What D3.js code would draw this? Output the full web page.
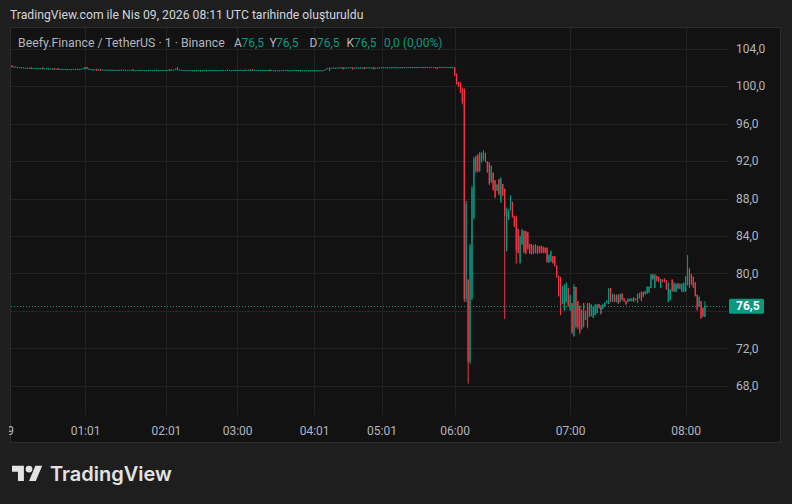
<!DOCTYPE html>
<html><head><meta charset="utf-8">
<script src="https://cdn.jsdelivr.net/npm/d3@7"></script>
<style>html,body{margin:0;padding:0;background:#1e1e1e;} svg{display:block}</style>
</head><body>
<svg id="c" width="792" height="504"></svg>
<script>
// ---------- data ----------
const titleText = "TradingView.com ile Nis 09, 2026 08:11 UTC tarihinde oluşturuldu";
const symbolText = "Beefy.Finance / TetherUS · 1 · Binance";
const legendKeys = ["A", "Y", "D", "K"];
const legendVals = ["76,5", "76,5", "76,5", "76,5"];
const changeText = "0,0 (0,00%)";
const lastPrice = 76.5;
const priceTicks = [68, 72, 76, 80, 84, 88, 92, 96, 100, 104];
const timeTickLabels = ["9", "01:01", "02:01", "03:00", "04:01", "05:01", "06:00", "07:00", "08:00"];
const timeTickBars = [-1, 38, 80, 117, 157, 192, 230, 290, 350];

// quiet period (bars 0..229): single-trade bars, open = high = low = close
const earlyPrice = [
 102.08,102.02,102.05,101.96,101.98,101.92,101.95,101.90,101.92,101.88,
 101.90,101.86,101.88,101.85,101.87,101.84,101.86,101.83,101.85,101.82,
 101.85,101.80,101.82,101.78,101.80,101.77,101.79,101.76,101.78,101.75,
 101.77,101.74,101.78,101.76,101.80,101.75,101.78,101.86,101.95,101.88,
 101.80,101.76,101.72,101.74,101.70,101.72,101.69,101.71,101.68,101.70,
 101.68,101.70,101.67,101.69,101.66,101.68,101.67,101.70,101.66,101.68,
 101.65,101.67,101.66,101.68,101.64,101.66,101.65,101.67,101.66,101.64,
 101.66,101.65,101.67,101.64,101.66,101.68,101.65,101.66,101.64,101.66,
 101.65,101.67,101.66,101.70,101.68,101.80,101.92,101.74,101.68,101.66,
 101.64,101.66,101.63,101.65,101.62,101.64,101.63,101.65,101.62,101.64,
 101.66,101.63,101.65,101.64,101.67,101.65,101.66,101.64,101.66,101.65,
 101.67,101.65,101.68,101.66,101.64,101.66,101.65,101.67,101.66,101.68,
 101.66,101.69,101.67,101.70,101.68,101.66,101.68,101.67,101.65,101.67,
 101.66,101.64,101.66,101.65,101.63,101.65,101.64,101.62,101.64,101.63,
 101.65,101.64,101.66,101.65,101.63,101.65,101.64,101.66,101.65,101.64,
 101.62,101.64,101.63,101.65,101.64,101.62,101.63,101.61,101.63,101.62,
 101.64,101.63,101.66,101.78,101.88,101.90,101.89,101.91,101.90,101.92,
 101.93,101.95,101.85,101.91,101.93,101.95,101.94,101.84,101.90,101.93,
 101.91,101.93,101.95,101.86,101.92,101.94,101.92,101.93,101.85,101.91,
 101.93,101.92,101.96,101.94,101.95,101.93,101.96,101.94,101.97,101.95,
 101.96,101.94,101.97,101.95,101.98,101.96,101.97,101.99,101.97,101.98,
 101.96,101.99,101.97,101.98,101.96,102.00,101.98,101.97,101.99,101.98,
 101.97,101.88,101.99,101.97,102.00,101.98,101.99,101.97,101.96,101.98
];
// quiet-period bars that traded a range: [bar, open, high, low, close]
const earlyRanged = [
 [0, 102.14, 102.14, 102.04, 102.06], [10, 101.96, 101.96, 101.86, 101.88],
 [16, 101.92, 101.92, 101.84, 101.85], [22, 101.88, 101.88, 101.80, 101.81],
 [24, 101.86, 101.86, 101.78, 101.79], [38, 101.84, 102.00, 101.84, 101.97],
 [39, 101.96, 101.96, 101.86, 101.88], [44, 101.78, 101.78, 101.69, 101.70],
 [46, 101.76, 101.76, 101.68, 101.69], [63, 101.75, 101.75, 101.66, 101.67],
 [82, 101.73, 101.73, 101.65, 101.66], [86, 101.72, 101.96, 101.72, 101.93],
 [125, 101.74, 101.74, 101.65, 101.66], [134, 101.72, 101.72, 101.63, 101.64],
 [165, 101.66, 101.92, 101.66, 101.90], [172, 101.95, 101.95, 101.83, 101.85],
 [177, 101.94, 101.94, 101.82, 101.84], [183, 101.95, 101.95, 101.84, 101.86],
 [188, 101.94, 101.94, 101.83, 101.85], [221, 101.98, 101.98, 101.86, 101.88]
];

// crash and recovery from 06:00 (bars 230..361): [open, high, low, close]
const lateOHLC = [
 [101.96,101.96,101.10,101.15],[101.20,101.30,100.20,100.30],[100.35,100.40,99.95,100.00],
 [100.30,100.40,99.30,99.40],[99.60,99.80,98.10,98.30],[99.60,99.70,77.00,77.30],
 [77.30,87.70,77.00,87.40],[79.30,79.30,68.30,70.60],[70.60,83.10,70.40,82.90],
 [77.40,89.30,77.20,89.00],[86.00,92.40,85.80,92.20],[92.40,92.50,90.80,91.00],
 [92.60,92.70,90.80,91.00],[91.00,92.90,90.90,92.80],[92.00,92.90,91.90,92.80],
 [92.20,93.10,92.10,93.00],[92.80,92.80,91.90,92.00],[91.90,91.90,90.80,90.90],
 [91.80,91.80,89.50,89.60],[89.80,91.50,89.70,91.40],[90.70,90.70,88.90,89.00],
 [89.90,89.90,88.10,88.20],[88.90,89.50,88.85,89.40],[90.00,90.00,88.40,88.50],
 [87.70,90.20,87.60,90.10],[89.50,89.50,88.30,88.40],[89.00,89.00,75.20,86.20],
 [82.50,87.00,82.40,86.80],[85.80,86.80,85.80,86.70],[86.80,88.30,86.80,88.20],
 [87.60,87.60,86.00,86.10],[86.10,86.10,85.00,85.10],[86.00,86.10,81.10,82.50],
 [84.70,84.70,82.20,82.30],[81.20,84.00,81.10,83.90],[83.20,84.70,83.10,84.60],
 [84.50,84.50,82.20,82.30],[84.40,84.50,82.10,82.20],[84.30,84.40,82.60,82.70],
 [83.10,83.10,82.10,82.20],[83.00,83.10,82.10,82.20],[82.20,83.00,82.10,82.90],
 [83.00,83.10,82.20,82.30],[82.90,82.90,82.10,82.20],[82.80,82.90,82.20,82.30],
 [82.90,82.90,82.20,82.30],[82.80,82.80,82.20,82.30],[82.70,82.70,82.20,82.30],
 [82.70,82.70,81.20,81.30],[81.20,82.00,81.20,81.90],[81.30,82.40,81.30,82.30],
 [81.80,81.80,81.10,81.20],[81.80,81.80,80.80,80.90],[80.80,80.80,79.60,79.70],
 [79.70,79.70,77.60,77.70],[79.50,79.60,75.60,76.00],[76.80,78.60,76.80,78.50],
 [76.10,78.80,76.10,78.70],[77.00,79.00,77.00,78.90],[78.40,78.40,76.50,76.60],
 [76.10,77.70,76.10,77.60],[76.80,76.80,73.60,73.80],[73.40,78.80,73.30,78.60],
 [78.50,78.50,74.20,74.40],[77.00,77.00,74.10,74.30],[76.50,76.50,73.60,73.80],
 [74.10,76.10,74.10,76.00],[76.80,76.80,74.30,74.40],[75.10,76.00,75.10,75.90],
 [76.80,76.80,74.20,74.40],[76.80,76.80,75.40,75.50],[75.50,76.70,75.50,76.60],
 [75.30,76.50,75.30,76.40],[75.60,76.70,75.60,76.60],[75.80,76.70,75.80,76.60],
 [76.70,76.70,76.30,76.40],[76.20,76.55,75.70,76.20],[76.30,76.70,76.30,76.60],
 [76.50,76.90,76.50,76.80],[76.90,77.10,76.90,77.00],[76.80,78.40,76.80,78.30],
 [78.40,78.40,77.00,77.10],[77.00,77.80,77.00,77.70],[77.70,77.70,77.00,77.10],
 [77.00,77.70,77.00,77.60],[77.70,77.70,76.80,76.90],[77.00,77.80,77.00,77.70],
 [77.80,77.80,77.20,77.30],[77.30,77.30,77.00,77.10],[77.00,77.00,76.70,76.80],
 [77.00,77.30,77.00,77.20],[77.10,77.30,77.10,77.25],[77.10,77.30,77.10,77.25],
 [77.40,77.40,77.00,77.10],[77.20,77.30,77.20,77.28],[76.90,77.80,76.90,77.70],
 [77.40,77.90,77.40,77.80],[78.00,78.00,77.10,77.20],[78.00,78.00,77.50,77.60],
 [77.80,78.10,77.80,78.00],[77.90,78.60,77.90,78.50],[78.00,78.60,78.00,78.50],
 [78.50,79.90,78.50,79.80],[79.60,79.90,79.40,79.60],[78.50,79.90,78.50,79.80],
 [79.70,79.70,79.20,79.30],[79.60,79.60,79.10,79.20],[78.50,79.40,78.50,79.30],
 [79.30,79.30,79.10,79.15],[79.40,79.40,79.10,79.20],[79.20,79.20,78.30,78.40],
 [77.00,79.00,77.00,78.90],[77.20,78.30,77.20,78.20],[79.30,79.30,78.10,78.20],
 [78.10,79.00,78.10,78.90],[78.10,78.90,78.10,78.80],[78.90,78.90,78.40,78.50],
 [78.40,78.90,78.40,78.80],[78.10,78.90,78.10,78.80],[78.10,79.00,78.10,78.90],
 [78.10,79.70,78.10,79.60],[78.80,81.90,78.80,80.40],[80.50,80.50,78.50,78.60],
 [79.90,79.90,78.80,78.90],[79.60,79.60,78.50,78.60],[79.00,79.00,77.60,77.70],
 [77.70,77.70,76.10,76.20],[76.50,77.50,76.50,77.40],[77.00,77.00,75.20,75.30],
 [76.30,76.30,75.40,75.50],[75.40,77.00,75.40,76.50],[76.50,76.50,76.50,76.50]
];
// bars drawn in the neutral (grey) colour
const greyBars = [306, 333];

// ---------- layout ----------
const W = 792, H = 504;
const paneL = 10, paneT = 27, paneR = 781, paneB = 443;
const plotR = 728, plotB = 415;
const upColor = "#089981", downColor = "#f23645", greyColor = "#9598a1";
const gridColor = "#222222", textColor = "#b2b5be";
const font = "Roboto, 'Noto Sans', 'Liberation Sans', sans-serif";

const svg = d3.select("#c");
svg.append("rect").attr("width", W).attr("height", H).attr("fill", "#1e1e1e");

svg.append("text").attr("x", 10).attr("y", 19).attr("fill", "#d1d4dc")
  .attr("font-family", font).attr("font-size", 12.2).text(titleText);

svg.append("rect").attr("x", paneL + 0.5).attr("y", paneT + 0.5)
  .attr("width", paneR - paneL - 1).attr("height", paneB - paneT - 1)
  .attr("fill", "#121212").attr("stroke", "#2c2c2c");

const defs = svg.append("defs");
defs.append("clipPath").attr("id", "plotClip").append("rect")
  .attr("x", paneL + 1).attr("y", paneT + 1).attr("width", plotR - paneL - 1).attr("height", plotB - paneT - 1);
defs.append("clipPath").attr("id", "timeClip").append("rect")
  .attr("x", paneL - 1).attr("y", plotB).attr("width", plotR - paneL + 1).attr("height", paneB - plotB);

// bars
const rangedMap = new Map(earlyRanged.map(r => [r[0], r]));
const earlyBars = earlyPrice.map((p, i) => {
  const r = rangedMap.get(i);
  return r ? { i, o: r[1], h: r[2], l: r[3], c: r[4] } : { i, o: p, h: p, l: p, c: p };
});
const lateBars = lateOHLC.map((d, k) => ({ i: earlyPrice.length + k, o: d[0], h: d[1], l: d[2], c: d[3] }));
const bars = earlyBars.concat(lateBars);

const x = d3.scaleLinear().domain([-1, 372]).range([paneL, plotR]);
const y = d3.scaleLinear().domain([64.9, 106.3]).range([plotB, paneT]);

// grid
const grid = svg.append("g").attr("clip-path", "url(#plotClip)").attr("shape-rendering", "crispEdges");
grid.selectAll("line.h").data(priceTicks).join("line").attr("class", "h")
  .attr("x1", paneL).attr("x2", plotR)
  .attr("y1", d => Math.round(y(d)) + 0.5).attr("y2", d => Math.round(y(d)) + 0.5)
  .attr("stroke", gridColor);
grid.selectAll("line.v").data(timeTickBars).join("line").attr("class", "v")
  .attr("x1", d => Math.round(x(d)) + 0.5).attr("x2", d => Math.round(x(d)) + 0.5)
  .attr("y1", paneT).attr("y2", plotB)
  .attr("stroke", gridColor);

// legend
const leg = svg.append("text").attr("y", 46.5).attr("font-family", font).attr("font-size", 12).attr("fill", textColor);
leg.append("tspan").attr("x", 18).attr("font-size", 12.3).text(symbolText);
const legX = [[234, 241.5], [269.5, 276], [309.5, 317], [346.5, 354]];
legendKeys.forEach((k, j) => {
  leg.append("tspan").attr("x", legX[j][0]).attr("fill", textColor).text(k);
  leg.append("tspan").attr("x", legX[j][1]).attr("fill", upColor).text(legendVals[j]);
});
leg.append("tspan").attr("x", 384).attr("fill", upColor).text(changeText);

// candles (anti-aliased thin bars, like the reference)
const cg = svg.append("g").attr("clip-path", "url(#plotClip)");
const col = d => greyBars.includes(d.i) ? greyColor : d.c >= d.o ? upColor : downColor;
cg.selectAll("rect.wick").data(bars).join("rect").attr("class", "wick")
  .attr("x", d => x(d.i) - 0.5)
  .attr("width", 1.0)
  .attr("y", d => y(d.h) - 0.5)
  .attr("height", d => Math.max(1, y(d.l) - y(d.h) + 1))
  .attr("fill", col);
cg.selectAll("rect.body").data(bars).join("rect").attr("class", "body")
  .attr("x", d => x(d.i) - 0.6)
  .attr("width", 1.2)
  .attr("y", d => y(Math.max(d.o, d.c)) - 0.5)
  .attr("height", d => Math.max(1, Math.abs(y(d.o) - y(d.c)) + 1))
  .attr("fill", col);

// last price line
const yl = y(lastPrice);
svg.append("line").attr("x1", paneL + 1).attr("x2", plotR)
  .attr("y1", Math.round(yl) + 0.5).attr("y2", Math.round(yl) + 0.5)
  .attr("stroke", upColor).attr("stroke-dasharray", "1 2");

// price axis
const fmt = d3.formatLocale({ decimal: ",", thousands: ".", grouping: [3], currency: ["", ""] }).format(".1f");
const yAxis = d3.axisRight(y).tickValues(priceTicks).tickSize(0).tickPadding(8)
  .tickFormat(d => Math.abs(y(d) - yl) < 14 ? "" : fmt(d));
const ya = svg.append("g").attr("transform", `translate(${plotR},0)`).call(yAxis);
ya.select(".domain").remove();
ya.selectAll("text").attr("fill", textColor).attr("font-family", font).attr("font-size", 12);

// last price label
svg.append("rect").attr("x", 729).attr("y", yl - 7.5).attr("width", 35).attr("height", 15)
  .attr("rx", 1.5).attr("fill", upColor);
svg.append("text").attr("x", 736).attr("y", yl).attr("dy", "0.35em")
  .attr("fill", "#ffffff").attr("font-family", font).attr("font-size", 12).attr("font-weight", 700)
  .text(fmt(lastPrice));

// time axis
const xAxis = d3.axisBottom(x).tickValues(timeTickBars).tickSize(0).tickPadding(11)
  .tickFormat((d, k) => timeTickLabels[k]);
const xa = svg.append("g").attr("clip-path", "url(#timeClip)")
  .append("g").attr("transform", `translate(0,${plotB})`).call(xAxis);
xa.select(".domain").remove();
xa.selectAll("text").attr("fill", textColor).attr("font-family", font).attr("font-size", 12);

// TradingView logo
const logo = svg.append("g").attr("transform", "translate(12,462.3) scale(0.85)").attr("fill", "#e3e3e3");
logo.append("path").attr("d", "M14 22H7V11H0V4h14v18zM28 22h-8l7.5-18h8L28 22z");
logo.append("circle").attr("cx", 20).attr("cy", 8).attr("r", 4);
svg.append("text").attr("x", 50).attr("y", 481).attr("fill", "#e3e3e3")
  .attr("font-family", "Inter, Roboto, sans-serif").attr("font-size", 20).attr("font-weight", 600)
  .text("TradingView");
</script>
</body></html>
